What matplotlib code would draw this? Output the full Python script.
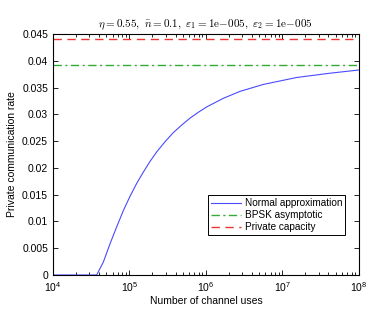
import numpy as np
import matplotlib
matplotlib.use("Agg")
import matplotlib.pyplot as plt
from matplotlib.ticker import LogLocator, NullFormatter, FixedLocator

# values (log10 of channel uses, rate)
log_n = [4.0, 4.571, 4.658, 4.745, 4.833, 4.919, 5.007, 5.094, 5.180, 5.268,
         5.356, 5.465, 5.573, 5.682, 5.791, 5.900, 6.009, 6.226, 6.444, 6.749,
         7.186, 7.621, 8.0]
rate_normal = [0.0, 0.0, 0.0024, 0.0058, 0.0090, 0.0120, 0.0147, 0.0171, 0.0192, 0.0212,
               0.0230, 0.0249, 0.0266, 0.0280, 0.0293, 0.0304, 0.0314, 0.0330, 0.0343, 0.0356,
               0.0369, 0.0377, 0.0383]
bpsk_asymptotic = 0.0392
private_capacity = 0.0441

y_ticks = [0, 0.005, 0.01, 0.015, 0.02, 0.025, 0.03, 0.035, 0.04, 0.045]
y_labels = ["0", "0.005", "0.01", "0.015", "0.02", "0.025", "0.03", "0.035", "0.04", "0.045"]

plt.rcParams["font.family"] = ["Liberation Sans", "DejaVu Sans"]
plt.rcParams["mathtext.fontset"] = "cm"

fig = plt.figure(figsize=(3.91, 3.22), dpi=100)
ax = fig.add_axes([0.1355, 0.146, 0.7825, 0.748])

n = 10 ** np.array(log_n)
ax.plot(n, rate_normal, color="#4a4aff", lw=0.8, label="Normal approximation")
ax.axhline(bpsk_asymptotic, color="#33aa33", lw=1.0, ls=(0, (6, 2.5, 1.5, 2.5)),
           label="BPSK asymptotic")
ax.axhline(private_capacity, color="#ee3333", lw=1.0, ls=(0, (6, 4)),
           label="Private capacity")

ax.set_xscale("log")
ax.set_xlim(1e4, 1e8)
ax.set_ylim(0, 0.045)
ax.xaxis.set_major_locator(LogLocator(base=10, numticks=10))
ax.xaxis.set_minor_locator(LogLocator(base=10, subs=np.arange(2, 10), numticks=20))
ax.xaxis.set_minor_formatter(NullFormatter())
ax.yaxis.set_major_locator(FixedLocator(y_ticks))
ax.set_yticklabels(y_labels)

ax.tick_params(which="both", direction="in", top=True, right=True,
               labelsize=7.5, width=0.6)
ax.tick_params(which="major", length=3.5)
ax.tick_params(which="minor", length=2)
for s in ax.spines.values():
    s.set_linewidth(0.8)

ax.set_xlabel("Number of channel uses", fontsize=7.5, labelpad=2)
ax.set_ylabel("Private communication rate", fontsize=7.5, labelpad=4)
ax.set_title(r"$\eta=0.55,\ \bar{n}=0.1,\ \varepsilon_1=\mathrm{1e\!-\!005},\ "
             r"\varepsilon_2=\mathrm{1e\!-\!005}$", fontsize=8, pad=5)

leg = ax.legend(loc="lower right", bbox_to_anchor=(0.955, 0.165), fontsize=7.2,
                fancybox=False, framealpha=1, edgecolor="black",
                handlelength=3, borderpad=0.3, labelspacing=0.2,
                handletextpad=0.4, borderaxespad=0)
leg.get_frame().set_linewidth(0.7)

fig.savefig("out.png", dpi=100)
